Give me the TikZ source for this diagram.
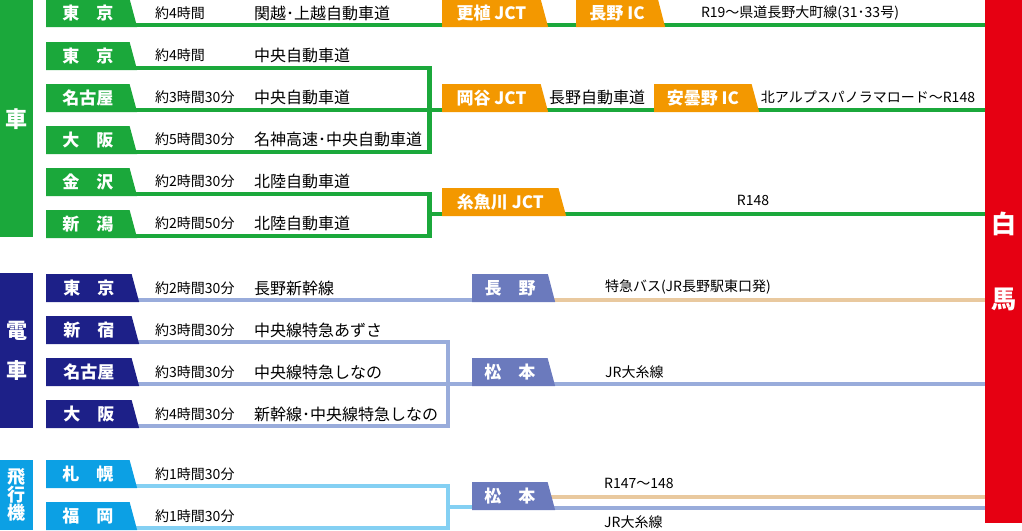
\documentclass[tikz,border=0pt]{standalone}
\usepackage{fontspec}
\setmainfont{Noto Sans CJK JP}
\usetikzlibrary{shapes.geometric,backgrounds}
\definecolor{roadgreen}{HTML}{1BA83B}
\definecolor{jctorange}{HTML}{F39800}
\definecolor{hakured}{HTML}{E60012}
\definecolor{trainnavy}{HTML}{1D2088}
\definecolor{trainline}{HTML}{99ACDB}
\definecolor{stationblue}{HTML}{6B7ABD}
\definecolor{busline}{HTML}{E9C99F}
\definecolor{planeblue}{HTML}{0CA0E4}
\definecolor{planeline}{HTML}{84D0F3}
\begin{document}
\begin{tikzpicture}[x=1pt, y=-1pt,
	tag/.style = {trapezium, trapezium left angle=90, trapezium right angle=65,
		trapezium stretches body, minimum height=28pt, inner sep=0pt,
		anchor=top left corner, text=white, font=\bfseries\fontsize{17pt}{17pt}\selectfont},
	road tag/.style = {tag, fill=roadgreen, minimum width=91pt},
	train tag/.style = {tag, fill=trainnavy, minimum width=93pt},
	plane tag/.style = {tag, fill=planeblue, minimum width=91pt},
	jct tag/.style = {tag, fill=jctorange},
	station tag/.style = {tag, fill=stationblue, minimum width=83pt},
	side bar/.style = {rectangle, anchor=north west, minimum width=33pt, inner sep=0pt,
		align=center, text=white},
	time/.style = {anchor=west, inner sep=0pt, font=\fontsize{14pt}{14pt}\selectfont},
	route/.style = {anchor=west, inner sep=0pt, font=\fontsize{16pt}{16pt}\selectfont},
	info/.style = {inner sep=0pt, font=\fontsize{14pt}{14pt}\selectfont},
	road/.style = {draw=roadgreen, line width=4.8pt},
	rail/.style = {draw=trainline, line width=4.8pt},
	bus/.style = {draw=busline, line width=4.8pt},
	flight/.style = {draw=planeline, line width=4.8pt}]
	
	\useasboundingbox (0,0) rectangle (1022,530);
	
	% goal
	\node[rectangle, fill=hakured, anchor=north west, minimum width=37pt, minimum height=523pt,
		inner sep=0pt, align=center, text=white,
		font=\bfseries\fontsize{25pt}{75pt}\selectfont] (hakuba) at (985,0) {白\\馬};
	
	% car
	\node[side bar, fill=roadgreen, minimum height=237pt,
		font=\bfseries\fontsize{22pt}{22pt}\selectfont] (car) at (0,0) {車};
	\node[road tag] (c1) at (46,-1) {東　京};
	\node[road tag] (c2) at (46,42) {東　京};
	\node[road tag] (c3) at (46,84) {名古屋};
	\node[road tag] (c4) at (46,126) {大　阪};
	\node[road tag] (c5) at (46,168) {金　沢};
	\node[road tag] (c6) at (46,210) {新　潟};
	\node[time] (ct1) at (155,13) {約4時間};
	\node[time] (ct2) at (155,55) {約4時間};
	\node[time] (ct3) at (155,97) {約3時間30分};
	\node[time] (ct4) at (155,139) {約5時間30分};
	\node[time] (ct5) at (155,181) {約2時間30分};
	\node[time] (ct6) at (155,223) {約2時間50分};
	\node[route] (cr1) at (254,13) {関越･上越自動車道};
	\node[route] (cr2) at (254,55) {中央自動車道};
	\node[route] (cr3) at (254,97) {中央自動車道};
	\node[route] (cr4) at (254,139) {名神高速･中央自動車道};
	\node[route] (cr5) at (254,181) {北陸自動車道};
	\node[route] (cr6) at (254,223) {北陸自動車道};
	\node[jct tag, minimum width=106pt] (j1) at (442,-1) {更植 JCT};
	\node[jct tag, minimum width=89pt] (j2) at (576,-1) {長野 IC};
	\node[jct tag, minimum width=106pt] (j3) at (442,84) {岡谷 JCT};
	\node[jct tag, minimum width=105pt] (j4) at (654,84) {安曇野 IC};
	\node[jct tag, minimum width=124pt] (j5) at (442,188) {糸魚川 JCT};
	\node[info] (ci1) at (800,13) {R19～県道長野大町線(31･33号)};
	\node[info, font=\fontsize{16pt}{16pt}\selectfont] (ci2) at (597,97) {長野自動車道};
	\node[info] (ci3) at (868,97) {北アルプスパノラマロード～R148};
	\node[info] (ci4) at (753,200) {R148};
	
	% train
	\node[side bar, fill=trainnavy, minimum height=155pt,
		font=\bfseries\fontsize{21pt}{40pt}\selectfont] (train) at (0,273) {電\\車};
	\node[train tag] (n1) at (46,274) {東　京};
	\node[train tag] (n2) at (46,316) {新　宿};
	\node[train tag] (n3) at (46,358) {名古屋};
	\node[train tag] (n4) at (46,400) {大　阪};
	\node[time] (nt1) at (155,288) {約2時間30分};
	\node[time] (nt2) at (155,330) {約3時間30分};
	\node[time] (nt3) at (155,372) {約3時間30分};
	\node[time] (nt4) at (155,414) {約4時間30分};
	\node[route] (nr1) at (254,288) {長野新幹線};
	\node[route] (nr2) at (254,330) {中央線特急あずさ};
	\node[route] (nr3) at (254,372) {中央線特急しなの};
	\node[route] (nr4) at (254,414) {新幹線･中央線特急しなの};
	\node[station tag] (s1) at (472,274) {長　野};
	\node[station tag] (s2) at (472,358) {松　本};
	\node[info, anchor=west] (ni1) at (605,287) {特急バス(JR長野駅東口発)};
	\node[info, anchor=west] (ni2) at (605,372) {JR大糸線};
	
	% plane
	\node[side bar, fill=planeblue, minimum height=70pt,
		font=\bfseries\fontsize{18pt}{18pt}\selectfont] (plane) at (0,460) {飛\\行\\機};
	\node[plane tag] (p1) at (46,460) {札　幌};
	\node[plane tag] (p2) at (46,502) {福　岡};
	\node[time] (pt1) at (155,474) {約1時間30分};
	\node[time] (pt2) at (155,516) {約1時間30分};
	\node[station tag] (s3) at (472,482) {松　本};
	\node[info, anchor=west] (pi1) at (604,483) {R147～148};
	\node[info, anchor=west] (pi2) at (604,522) {JR大糸線};
	
	\coordinate (k1) at (429.5,0);
	\coordinate (k2) at (448,0);
	
	\begin{scope}[on background layer]
	% roads
	\draw[road] ([yshift=2.4pt]c1.bottom left corner) -- ([yshift=2.4pt]hakuba.west |- c1.bottom left corner);
	\draw[road] ([yshift=2.4pt]c2.bottom left corner) -| ([yshift=2.4pt]k1 |- c4.bottom left corner) -- ([yshift=2.4pt]c4.bottom left corner);
	\draw[road] ([yshift=2.4pt]c3.bottom left corner) -- ([yshift=2.4pt]hakuba.west |- c3.bottom left corner);
	\draw[road] ([yshift=2.4pt]c5.bottom left corner) -| ([yshift=2.4pt]k1 |- c6.bottom left corner) -- ([yshift=2.4pt]c6.bottom left corner);
	\draw[road] ([yshift=2.4pt]k1 |- j5.bottom left corner) -- ([yshift=2.4pt]hakuba.west |- j5.bottom left corner);
	% trains
	\draw[rail] ([yshift=2.4pt]n1.bottom left corner) -- ([yshift=2.4pt]s1.bottom left corner);
	\draw[bus] ([yshift=2.4pt]s1.bottom left corner) -- ([yshift=2.4pt]hakuba.west |- s1.bottom left corner);
	\draw[rail] ([yshift=2.4pt]n2.bottom left corner) -| ([yshift=2.4pt]k2 |- n4.bottom left corner) -- ([yshift=2.4pt]n4.bottom left corner);
	\draw[rail] ([yshift=2.4pt]n3.bottom left corner) -- ([yshift=2.4pt]hakuba.west |- n3.bottom left corner);
	% planes
	\draw[flight] ([yshift=2.4pt]p1.bottom left corner) -| ([yshift=2.4pt]k2 |- p2.bottom left corner) -- ([yshift=2.4pt]p2.bottom left corner);
	\draw[flight] ([yshift=3.5pt]k2 |- s3.bottom left corner) -- ([yshift=3.5pt]s3.bottom left corner);
	\draw[rail] ([yshift=2.4pt]s3.bottom left corner) -- ([yshift=2.4pt]hakuba.west |- s3.bottom left corner);
	\draw[bus] ([yshift=13.5pt]s3.bottom left corner) -- ([yshift=13.5pt]hakuba.west |- s3.bottom left corner);
	\end{scope}
\end{tikzpicture}
\end{document}
